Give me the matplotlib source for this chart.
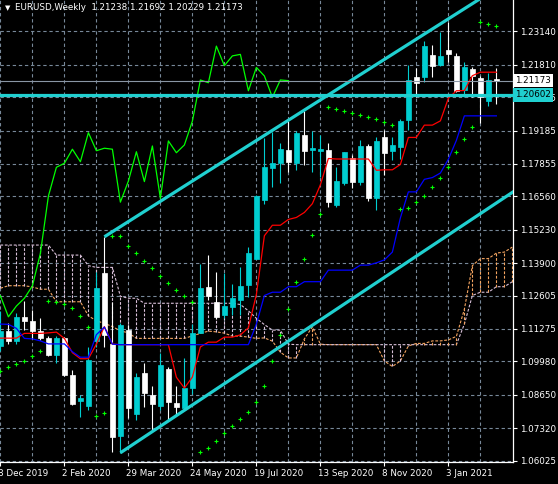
import numpy as np
import matplotlib.pyplot as plt
import matplotlib.transforms as mtransforms

# weekly EURUSD bars, index 0 = week of 8 Dec 2019
opens = [1.1058, 1.1121, 1.1080, 1.1176, 1.1160, 1.1121, 1.1090, 1.1025, 1.1093, 1.0944,
         1.0842, 1.0820, 1.1080, 1.1352, 1.1068, 1.0702, 1.1122, 1.0789, 1.0953, 1.0864,
         1.0821, 1.0968, 1.0834, 1.0811, 1.0893, 1.1113, 1.1294, 1.1235, 1.1183, 1.1216,
         1.1243, 1.1303, 1.1408, 1.1642, 1.1770, 1.1788, 1.1841, 1.1790, 1.1901, 1.1841,
         1.1836, 1.1841, 1.1622, 1.1711, 1.1810, 1.1715, 1.1857, 1.1648, 1.1891, 1.1838,
         1.1852, 1.1960, 1.2131, 1.2133, 1.2220, 1.2180, 1.2240, 1.2216, 1.2080, 1.2162,
         1.2127, 1.2037, 1.21238]
highs = [1.1200, 1.1150, 1.1190, 1.1240, 1.1205, 1.1173, 1.1100, 1.1100, 1.1095, 1.0964,
         1.0866, 1.1057, 1.1355, 1.1495, 1.1236, 1.1150, 1.1145, 1.0953, 1.0990, 1.0900,
         1.1030, 1.0977, 1.0900, 1.1013, 1.1147, 1.1386, 1.1424, 1.1353, 1.1350, 1.1307,
         1.1373, 1.1456, 1.1660, 1.1888, 1.1914, 1.1868, 1.1958, 1.1918, 1.1998, 1.1918,
         1.1901, 1.1870, 1.1774, 1.1834, 1.1821, 1.1881, 1.1865, 1.1894, 1.1921, 1.1894,
         1.1963, 1.2180, 1.2167, 1.2277, 1.2259, 1.2312, 1.2352, 1.2226, 1.2193, 1.2173,
         1.2136, 1.2149, 1.21692]
lows = [1.1040, 1.1066, 1.1068, 1.1125, 1.1086, 1.1085, 1.1018, 1.0993, 1.0940, 1.0825,
        1.0778, 1.0805, 1.1055, 1.1055, 1.0638, 1.0634, 1.0774, 1.0765, 1.0818, 1.0725,
        1.0805, 1.0765, 1.0784, 1.0807, 1.0870, 1.1110, 1.1245, 1.1168, 1.1170, 1.1185,
        1.1185, 1.1255, 1.1405, 1.1625, 1.1692, 1.1711, 1.1755, 1.1761, 1.1781, 1.1754,
        1.1734, 1.1615, 1.1612, 1.1701, 1.1688, 1.1701, 1.1639, 1.1602, 1.1741, 1.1801,
        1.1804, 1.1921, 1.2053, 1.2113, 1.2131, 1.2176, 1.2193, 1.2073, 1.2053, 1.2053,
        1.1950, 1.2016, 1.20229]
closes = [1.1121, 1.1080, 1.1176, 1.1160, 1.1121, 1.1090, 1.1025, 1.1093, 1.0944, 1.0830,
          1.0852, 1.1005, 1.1290, 1.1104, 1.0696, 1.1145, 1.0814, 1.0937, 1.0873, 1.0827,
          1.0984, 1.0838, 1.0818, 1.0893, 1.1110, 1.1290, 1.1260, 1.1176, 1.1219, 1.1250,
          1.1299, 1.1429, 1.1657, 1.1772, 1.1788, 1.1844, 1.1794, 1.1910, 1.1838, 1.1848,
          1.1844, 1.1633, 1.1717, 1.1834, 1.1715, 1.1857, 1.1648, 1.1877, 1.1830, 1.1861,
          1.1956, 1.2120, 1.2109, 1.2255, 1.2177, 1.2216, 1.2222, 1.2077, 1.2170, 1.2136,
          1.2051, 1.2120, 1.21173]

tenkan = [1.1091, 1.1091, 1.1091, 1.1110, 1.1110, 1.1110, 1.1112, 1.1115, 1.1090, 1.1033,
          1.1009, 1.1009, 1.1067, 1.1137, 1.1067, 1.1065, 1.1065, 1.1065, 1.1065, 1.1065,
          1.1065, 1.1065, 1.0935, 1.0892, 1.0936, 1.1056, 1.1075, 1.1075, 1.1095, 1.1095,
          1.1104, 1.1132, 1.1265, 1.1499, 1.1541, 1.1541, 1.1564, 1.1572, 1.1592, 1.1627,
          1.1702, 1.1807, 1.1805, 1.1805, 1.1805, 1.1805, 1.1805, 1.1760, 1.1762, 1.1762,
          1.1783, 1.1891, 1.1891, 1.1940, 1.1940, 1.1957, 1.2047, 1.2077, 1.2078, 1.2137,
          1.2151, 1.2151, 1.2151]
kijun = [1.1147, 1.1146, 1.1130, 1.1090, 1.1088, 1.1080, 1.1068, 1.1068, 1.1068, 1.1037,
         1.1015, 1.1015, 1.1105, 1.1135, 1.1067, 1.1065, 1.1065, 1.1065, 1.1065, 1.1065,
         1.1065, 1.1065, 1.1065, 1.1065, 1.1065, 1.1065, 1.1065, 1.1065, 1.1065, 1.1065,
         1.1065, 1.1065, 1.1147, 1.1261, 1.1274, 1.1274, 1.1296, 1.1296, 1.1316, 1.1316,
         1.1316, 1.1362, 1.1362, 1.1362, 1.1362, 1.1382, 1.1382, 1.1391, 1.1403, 1.1434,
         1.1570, 1.1674, 1.1674, 1.1724, 1.1731, 1.1749, 1.1804, 1.1879, 1.1977, 1.1977,
         1.1977, 1.1977, 1.1977]
# cloud, index 0..64 (runs past the last bar)
span_a = [1.1290, 1.1300, 1.1300, 1.1300, 1.1295, 1.1286, 1.1286, 1.1236, 1.1236, 1.1236,
          1.1236, 1.1180, 1.1160, 1.1150, 1.1137, 1.1120, 1.1112, 1.1090, 1.1090, 1.1090,
          1.1090, 1.1090, 1.1090, 1.1090, 1.1100, 1.1110, 1.1119, 1.1116, 1.1111, 1.1099,
          1.1099, 1.1095, 1.1090, 1.1092, 1.1079, 1.1035, 1.1012, 1.1012, 1.1088, 1.1136,
          1.1067, 1.1065, 1.1065, 1.1065, 1.1065, 1.1065, 1.1065, 1.1065, 1.1000, 1.0978,
          1.1000, 1.1060, 1.1070, 1.1070, 1.1080, 1.1080, 1.1084, 1.1098, 1.1206, 1.1380,
          1.1408, 1.1408, 1.1430, 1.1434, 1.1454]
span_b = [1.1462, 1.1462, 1.1462, 1.1462, 1.1462, 1.1462, 1.1462, 1.1422, 1.1422, 1.1422,
          1.1422, 1.1380, 1.1373, 1.1373, 1.1373, 1.1258, 1.1250, 1.1250, 1.1230, 1.1230,
          1.1230, 1.1230, 1.1230, 1.1230, 1.1230, 1.1230, 1.1230, 1.1230, 1.1230, 1.1230,
          1.1225, 1.1200, 1.1170, 1.1145, 1.1123, 1.1123, 1.1067, 1.1065, 1.1065, 1.1065,
          1.1065, 1.1065, 1.1065, 1.1065, 1.1065, 1.1065, 1.1065, 1.1065, 1.1065, 1.1065,
          1.1065, 1.1065, 1.1065, 1.1065, 1.1065, 1.1065, 1.1065, 1.1065, 1.1147, 1.1261,
          1.1274, 1.1274, 1.1296, 1.1296, 1.1316]
psar = [1.0960, 1.0975, 1.0987, 1.1000, 1.1018, 1.1039, 1.1241, 1.1236, 1.1227, 1.1210,
        1.1179, 1.1137, 1.0779, 1.0791, 1.1498, 1.1498, 1.1460, 1.1429, 1.1397, 1.1369,
        1.1339, 1.1310, 1.1282, 1.1258, 1.1234, 1.0636, 1.0652, 1.0683, 1.0712, 1.0741,
        1.0767, 1.0796, 1.0836, 1.0899, 1.1001, 1.1105, 1.1206, 1.1313, 1.1405, 1.1501,
        1.1585, 1.2011, 1.2003, 1.1995, 1.1987, 1.1979, 1.1974, 1.1966, 1.1952, 1.1939,
        1.1605, 1.1609, 1.1633, 1.1658, 1.1692, 1.1728, 1.1772, 1.1832, 1.1884, 1.1931,
        1.2350, 1.2342, 1.2334]
chikou_shift = 26

# channel anchors (bar index, price)
upper_x, upper_y = [13, 38], [1.1495, 1.2000]
lower_x, lower_y = [15, 64], [1.0634, 1.1672]
hline_level = 1.20602
bid = 1.21173

price_ticks = [1.23140, 1.21810, 1.20515, 1.19185, 1.17855, 1.16560, 1.15230,
               1.13900, 1.12605, 1.11275, 1.09980, 1.08650, 1.07320, 1.06025]
date_labels = ["8 Dec 2019", "2 Feb 2020", "29 Mar 2020", "24 May 2020",
               "19 Jul 2020", "13 Sep 2020", "8 Nov 2020", "3 Jan 2021"]
date_pos = [0, 8, 16, 24, 32, 40, 48, 56]

UP = '#00CED1'
DOWN = 'white'
GRID = '#778899'
FS = 6.3

W, H = 558, 484
fig = plt.figure(figsize=(W / 100, H / 100), dpi=100, facecolor='black')
ax = fig.add_axes([0, 22 / H, 513 / W, 462 / H])
ax.set_facecolor('black')
ax.set_xlim(-0.05, 64.08)
ax.set_ylim(1.059732, 1.243876)

# grid
for p in price_ticks:
    ax.axhline(p, color=GRID, lw=0.8, ls=(0, (3, 2.5)), zorder=0)
for g in range(0, 64, 4):
    ax.axvline(g, color=GRID, lw=0.8, ls=(0, (3, 2.5)), zorder=0)

# ichimoku cloud
n_cloud = len(span_a)
xc = np.arange(n_cloud)
ax.plot(xc, span_a, color='#F4A460', lw=0.8, ls=(0, (2.5, 1.5)), zorder=1)
ax.plot(xc, span_b, color='#D8BFD8', lw=0.8, ls=(0, (2.5, 1.5)), zorder=1)
for i in range(n_cloud):
    a, b = span_a[i], span_b[i]
    col = '#F4A460' if a > b else '#D8BFD8'
    ax.vlines(i, min(a, b), max(a, b), color=col, lw=0.8, ls=(0, (2.5, 1.5)), zorder=1)

# candles
for i in range(len(opens)):
    o, h, l, c = opens[i], highs[i], lows[i], closes[i]
    col = UP if c >= o else DOWN
    ax.vlines(i, l, h, color=col, lw=0.8, zorder=2)
    ax.bar(i, max(abs(c - o), 0.00005), bottom=min(o, c), width=0.58,
           color=col, edgecolor=col, lw=0.5, zorder=2)

xb = np.arange(len(opens))
ax.plot(xb, tenkan, color='red', lw=0.9, zorder=3)
ax.plot(xb, kijun, color='blue', lw=0.9, zorder=3)
ax.plot(xb[:len(closes) - chikou_shift], closes[chikou_shift:], color='lime', lw=0.9, zorder=3)
ax.plot(xb, psar, ls='none', marker='+', color='lime', ms=3, mew=0.8, zorder=3)

# channel lines, extended to the right
for xs, ys in [(upper_x, upper_y), (lower_x, lower_y)]:
    slope = (ys[1] - ys[0]) / (xs[1] - xs[0])
    x_end = 70
    ax.plot([xs[0], x_end], [ys[0], ys[0] + slope * (x_end - xs[0])],
            color='#20D0D0', lw=2.3, solid_capstyle='butt', zorder=4)

ax.axhline(bid, color='#8A96A4', lw=0.8, zorder=4)
ax.axhline(hline_level, color='#20D0D0', lw=2.3, zorder=4)

# axes cosmetics
for s in ['top', 'left']:
    ax.spines[s].set_visible(False)
for s in ['right', 'bottom']:
    ax.spines[s].set_color('white')
    ax.spines[s].set_linewidth(0.9)
ax.yaxis.tick_right()
ax.set_yticks(price_ticks)
ax.set_yticklabels([f"{p:.5f}" for p in price_ticks])
ax.set_xticks(date_pos)
ax.set_xticklabels(date_labels, ha='left')
ax.tick_params(colors='white', labelsize=FS, length=3, width=0.8)
ax.tick_params(axis='y', pad=2)
ax.tick_params(axis='x', pad=2)
for lab in ax.get_xticklabels():
    lab.set_transform(lab.get_transform() + mtransforms.ScaledTranslation(-1.5 / 72, 0, fig.dpi_scale_trans))

trans = mtransforms.blended_transform_factory(ax.transAxes, ax.transData)
ax.text(1.004, bid, f"{bid:.5f}", transform=trans, ha='left', va='center', fontsize=FS,
        color='black', bbox=dict(boxstyle='square,pad=0.25', fc='white', ec='none'), zorder=6)
ax.text(1.004, hline_level, f"{hline_level:.5f}", transform=trans, ha='left', va='center',
        fontsize=FS, color='black', bbox=dict(boxstyle='square,pad=0.25', fc='#20D0D0', ec='none'),
        zorder=6, clip_on=False)

fig.text(5 / W, 1 - 8 / H, "\u25bc", color='white', fontsize=5, va='center', ha='left')
fig.text(15 / W, 1 - 8 / H, "EURUSD,Weekly  1.21238 1.21692 1.20229 1.21173",
         color='white', fontsize=FS, va='center', ha='left')

fig.savefig('out.png', dpi=100, facecolor='black')
